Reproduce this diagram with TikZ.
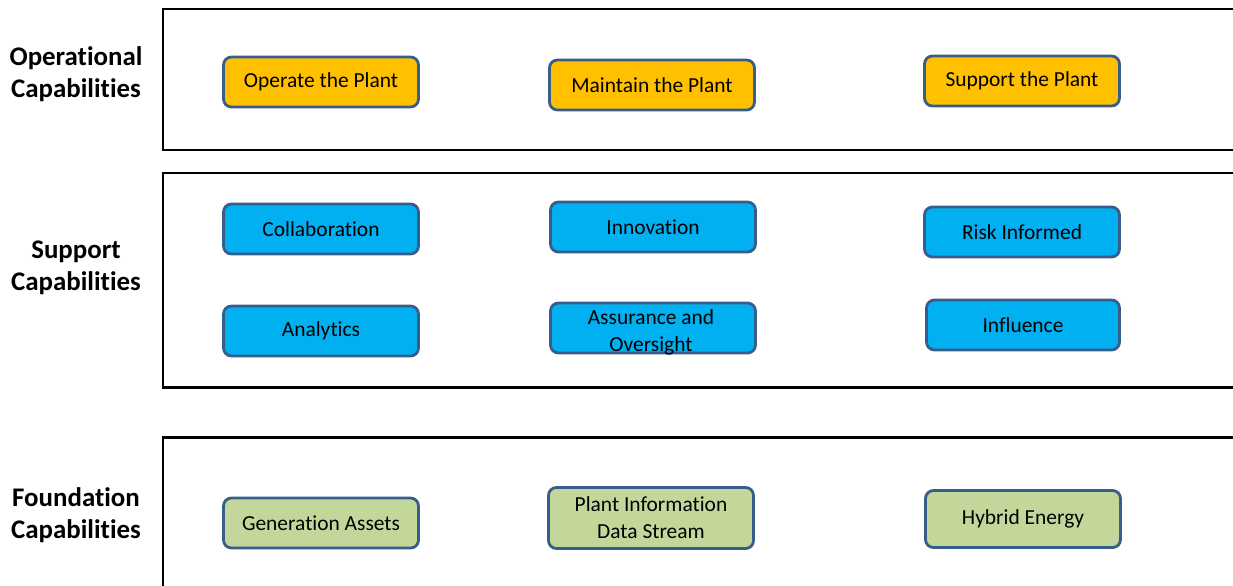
\documentclass[tikz,border=0pt]{standalone}
\usepackage{fontspec}
\setmainfont{Carlito}[Ligatures={NoCommon}]
\definecolor{CapOrange}{RGB}{255, 192, 0}
\definecolor{CapBlue}{RGB}{0, 176, 240}
\definecolor{CapGreen}{RGB}{196, 215, 155}
\definecolor{CapEdge}{RGB}{56, 93, 138}
\usetikzlibrary{positioning}

\begin{document}
\begin{tikzpicture}[x=0.02cm, y=-0.02cm,
        layer/.style={draw=black, line width=1.7pt},
        capbox/.style={rectangle, draw=CapEdge, line width=1.6pt, rounded corners=4.5pt, minimum width=3.9cm, minimum height=1.0cm, align=center, inner sep=1pt, font=\fontsize{12.2}{15.3}\selectfont},
        oper/.style={capbox, fill=CapOrange},
        supp/.style={capbox, fill=CapBlue},
        found/.style={capbox, fill=CapGreen},
        title/.style={align=center, font=\bfseries\fontsize{15.3}{18}\selectfont}
    ]
        \useasboundingbox (0,0) rectangle (1233,585);
        \clip (0,0) rectangle (1233,585);

        % layers
        \draw[layer] (163,9) rectangle (1260,150);
        \draw[layer] (163,173) rectangle (1260,387);
        \draw[layer] (163,437) rectangle (1260,620);

        \node[title] (opTitle) at (76,74) {Operational\\Capabilities};
        \node[title] (suTitle) at (76,268) {Support\\Capabilities};
        \node[title] (foTitle) at (76,515) {Foundation\\Capabilities};

        % operational
        \node[oper] (operate) at (321,82) {\raisebox{-2pt}{Operate the Plant}};
        \node[oper, minimum width=4.1cm] (maintain) at (652,85) {Maintain the Plant};
        \node[oper] (support) at (1022,81) {Support the Plant};

        % support
        \node[supp] (collab) at (321,229) {\raisebox{-1pt}{Collaboration}};
        \node[supp, minimum width=4.1cm] (innov) at (653,227) {Innovation};
        \node[supp] (risk) at (1022,232) {\raisebox{-2pt}{Risk Informed}};
        \node[supp] (analytics) at (321,331) {Analytics};
        \node[supp, minimum width=4.1cm, minimum height=1.0cm] (assure) at (653,328) {};
        \node[font=\fontsize{12.2}{15.3}\selectfont, align=center] (assureText) at (651,332) {Assurance and\\Oversight};
        \node[supp, minimum width=3.86cm] (influence) at (1023,325) {Influence};

        % foundation
        \node[found] (genAssets) at (321,523) {Generation Assets};
        \node[found, minimum width=4.1cm, minimum height=1.22cm] (plantInfo) at (651,518) {Plant Information\\Data Stream};
        \node[found, minimum height=1.14cm] (hybrid) at (1023,519) {Hybrid Energy};
    \end{tikzpicture}
\end{document}
